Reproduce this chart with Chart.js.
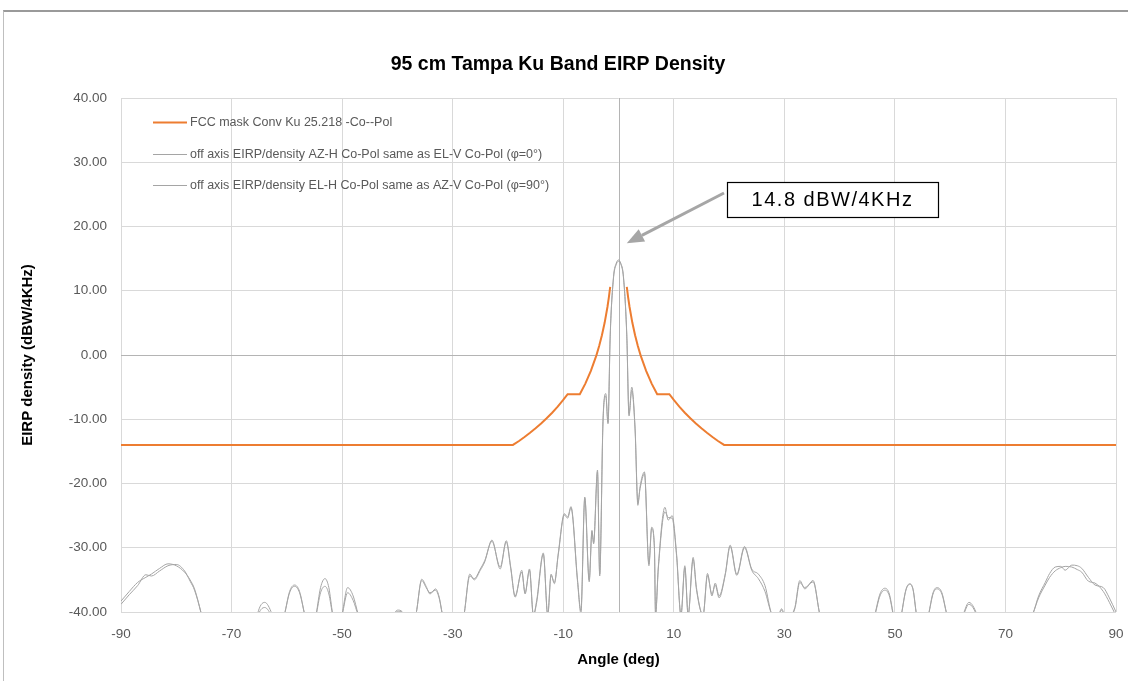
<!DOCTYPE html>
<html>
<head>
<meta charset="utf-8">
<title>95 cm Tampa Ku Band EIRP Density</title>
<script src="https://cdn.jsdelivr.net/npm/chart.js@4.4.1/dist/chart.umd.min.js"></script>
<style>
    html, body { margin: 0; padding: 0; background: #fff; overflow: hidden; }
    #wrap { position: relative; width: 1128px; height: 681px; overflow: hidden; }
    #frame { position: absolute; left: 3px; top: 10px; width: 1300px; height: 900px;
             border-left: 1px solid #bfbfbf; border-top: 2px solid #9a9a9a; }
    #myChart { position: absolute; left: 0; top: 0; }
</style>
</head>
<body>
<div id="wrap">
    <div id="frame"></div>
    <canvas id="myChart" width="1128" height="681"></canvas>
</div>
<script>
// ---- data ----
const chartTitle = '95 cm Tampa Ku Band EIRP Density';
const xTitle = 'Angle (deg)';
const yTitle = 'EIRP density (dBW/4KHz)';
const seriesNames = [
    'FCC mask Conv Ku 25.218 -Co--Pol',
    'off axis EIRP/density AZ-H Co-Pol same as EL-V Co-Pol (\u03c6=0\u00b0)',
    'off axis EIRP/density EL-H Co-Pol same as AZ-V Co-Pol (\u03c6=90\u00b0)'
];
const peakLabel = '14.8 dBW/4KHz';

const xTickValues = [-90, -70, -50, -30, -10, 10, 30, 50, 70, 90];
const yTickValues = [-40, -30, -20, -10, 0, 10, 20, 30, 40];
const yTickLabels = ['-40.00', '-30.00', '-20.00', '-10.00', '0.00', '10.00', '20.00', '30.00', '40.00'];

// FCC mask (gap around boresight)
const maskAngles = [-90, -19.1, -18, -17, -16, -15, -14, -13, -12, -11, -10, -9.2, -7, -6, -5, -4, -3.5, -3, -2.5, -2, -1.75, -1.5,
    0,
    1.5, 1.75, 2, 2.5, 3, 3.5, 4, 5, 6, 7, 9.2, 10, 11, 12, 13, 14, 15, 16, 17, 18, 19.1, 90];
const maskValues = [-14, -14, -13.38, -12.76, -12.1, -11.4, -10.65, -9.85, -8.98, -8.03, -7.0, -6.1, -6.1, -4.45, -2.47, -0.05, 1.4, 3.07, 5.05, 7.47, 8.92, 10.6,
    null,
    10.6, 8.92, 7.47, 5.05, 3.07, 1.4, -0.05, -2.47, -4.45, -6.1, -6.1, -7.0, -8.03, -8.98, -9.85, -10.65, -11.4, -12.1, -12.76, -13.38, -14, -14];

// measured off-axis EIRP density
const offAxisAngles = [
    -90, -88.5, -87, -85.5, -84.5, -83, -81.5, -80, -78.5, -77.5,
    -76.7, -75.5, -74.5, -70, -66, -65.3, -64, -62.7, -61.5, -60.4,
    -59.5, -58.6, -57.7, -56.8, -55.8, -54.7, -53.9, -53.1, -52.4, -51.7,
    -50.8, -50.0, -49.0, -48.0, -47.1, -45, -41, -40.5, -39.8, -38.9,
    -37.5, -36.6, -35.6, -34.8, -34.1, -33.1, -32.4, -31.9, -30, -28.5,
    -27.9, -26.9, -26.1, -25.0, -24.2, -22.9, -21.4, -20.3, -19.5, -18.7,
    -17.5, -16.9, -16.1, -15.4, -14.8, -13.6, -12.8, -12.2, -11.6, -10.9,
    -9.8, -9.2, -8.6, -7.4, -6.8, -6.1, -5.3, -4.8, -4.5, -3.8,
    -3.4, -2.8, -2.3, -1.9, -1.5, -0.9, -0.4, 0, 0.4, 0.9,
    1.5, 1.9, 2.4, 3.0, 3.5, 3.9, 4.7, 5.5, 6.0, 6.5,
    6.7, 7.2, 8.4, 9.0, 9.7, 10.5, 11.3, 12.0, 12.6, 13.5,
    14.1, 15.3, 16.1, 16.9, 17.5, 18.2, 19.3, 20.2, 21.4, 22.8,
    24.1, 25.3, 26.5, 27.7, 28.7, 29.5, 30.3, 31.9, 32.8, 33.7,
    35.2, 36.4, 38, 45, 46.4, 47.3, 48.2, 49.0, 49.7, 50.5,
    51.2, 52.0, 52.7, 53.3, 53.9, 55, 56.1, 56.9, 57.6, 58.5,
    59.4, 61, 62.4, 63.4, 64.8, 66, 72, 75.0, 76, 77.2,
    78, 79.0, 80.0, 80.8, 82.0, 83.0, 83.8, 85, 86.2, 87.7,
    88.8, 90
];
const azHValues = [
    -38.3, -36.8, -35.4, -34.6, -34.1, -33.2, -32.5, -32.8, -33.8, -35.0,
    -36.4, -40.2, -44, -46, -44, -40.3, -38.5, -40.3, -44, -40.3,
    -36.8, -35.8, -36.8, -40.3, -44, -40.3, -36.2, -34.8, -36.2, -40.3,
    -43, -40.3, -36.2, -37.5, -40.3, -45, -43, -40.2, -39.7, -40.2,
    -43, -40.2, -34.9, -36.0, -37.2, -36.4, -37.8, -40.2, -46, -43,
    -40.2, -34.1, -35.0, -33.5, -32.2, -28.8, -33.3, -28.9, -33, -37.7,
    -33.5, -37.2, -33.3, -40.5, -38.2, -30.8, -40.5, -34.1, -35.6, -30.9,
    -24.7, -25.2, -23.6, -35.1, -39.8, -22.1, -35.0, -27.3, -29.4, -17.9,
    -34.1, -10.1, -6.0, -10.7, 2.9, 12.2, 14.3, 14.8, 14.3, 12.2,
    2.9, -9.5, -5.5, -11.7, -23.4, -20.5, -18.2, -32.5, -26.8, -29.9,
    -40.5, -33.0, -23.7, -25.7, -25.0, -30.9, -40.5, -32.8, -40.5, -31.5,
    -36.2, -40.5, -34.0, -37.5, -35.5, -37.5, -34.1, -29.6, -34.1, -29.8,
    -33.3, -34.1, -35.9, -40.3, -41, -39.5, -41, -39.3, -35.1, -36.4,
    -35.1, -40.3, -45, -45, -40.3, -37.2, -36.3, -37.2, -40.3, -44,
    -40.3, -36.5, -35.6, -36.5, -40.3, -44, -40.3, -37, -36.2, -37,
    -40.3, -44, -40.3, -38.5, -40.3, -44, -46, -40.2, -37.5, -35.4,
    -34, -33.0, -32.9, -33.5, -32.7, -32.8, -33.2, -34.6, -35.8, -36.2,
    -37.8, -40
];
const elHValues = [
    -38.8, -37.3, -35.9, -34.2, -34.4, -33.6, -32.8, -32.6, -33.6, -35.2,
    -36.6, -40.2, -44, -46, -44, -40.8, -39.3, -40.8, -44, -40.3,
    -37.0, -36.0, -37.0, -40.3, -44, -40.5, -37.0, -36.0, -37.2, -40.5,
    -43, -40.5, -37.0, -38.2, -40.5, -45, -43, -40.3, -39.9, -40.3,
    -43, -40.2, -35.1, -36.2, -37.0, -36.6, -38.0, -40.2, -46, -43,
    -40.2, -34.4, -34.8, -33.3, -32.0, -29.0, -33.0, -29.1, -33.2, -37.5,
    -33.8, -37.0, -33.5, -40.5, -38.5, -31.0, -40.5, -34.3, -35.4, -31.1,
    -24.9, -25.4, -23.8, -35.4, -40.2, -22.3, -35.3, -27.5, -29.2, -18.2,
    -34.4, -10.4, -6.4, -10.5, 3.2, 12.0, 14.1, 14.6, 14.2, 12.0,
    3.2, -9.2, -5.0, -11.4, -23.0, -20.8, -18.5, -32.8, -27.0, -30.2,
    -40.5, -33.3, -24.4, -25.3, -25.4, -31.2, -40.5, -33.1, -40.5, -31.8,
    -36.5, -40.5, -34.3, -37.2, -35.8, -37.8, -34.3, -29.8, -34.3, -30.0,
    -33.5, -34.8, -36.8, -40.3, -41, -39.7, -41, -39.5, -35.4, -36.2,
    -35.3, -40.3, -45, -45, -40.5, -37.5, -36.6, -37.5, -40.5, -44,
    -40.4, -36.6, -35.7, -36.6, -40.4, -44, -40.4, -37.2, -36.4, -37.2,
    -40.4, -44, -40.5, -38.8, -40.5, -44, -46, -40.2, -37.8, -35.8,
    -34.6, -33.6, -33.1, -32.9, -33.0, -33.4, -33.8, -35.2, -35.5, -36.8,
    -38.5, -40.6
];

// ---- drawing ----
const FONT = '"Liberation Sans", Arial, sans-serif';
const seriesColors = ['#ed7d31', '#a5a5a5', '#a5a5a5'];
const seriesWidths = [2, 1, 1];

function toPoints(xs, ys) {
    return xs.map((x, i) => ({ x: x, y: ys[i] }));
}

// zero lines, legend inside the plot and the peak call-out
const overlayPlugin = {
    id: 'overlay',
    beforeDatasetsDraw(chart) {
        const { ctx, chartArea: a, scales: { x, y } } = chart;
        const x0 = Math.round(x.getPixelForValue(0)) + 0.5;
        const y0 = Math.round(y.getPixelForValue(0)) + 0.5;
        ctx.save();
        ctx.strokeStyle = '#b4b4b4';
        ctx.lineWidth = 1;
        ctx.beginPath();
        ctx.moveTo(x0, a.top); ctx.lineTo(x0, a.bottom);
        ctx.moveTo(a.left, y0); ctx.lineTo(a.right, y0);
        ctx.stroke();
        ctx.restore();
    },
    afterDatasetsDraw(chart) {
        const { ctx, chartArea: a, scales: { x, y } } = chart;
        ctx.save();

        // legend
        ctx.font = '12.5px ' + FONT;
        ctx.textBaseline = 'middle';
        ctx.textAlign = 'left';
        chart.data.datasets.forEach((ds, i) => {
            const ly = Math.round(a.top + 24 + i * 31.5) + 0.5;
            ctx.strokeStyle = ds.borderColor;
            ctx.lineWidth = ds.borderWidth;
            ctx.beginPath();
            ctx.moveTo(a.left + 32, ly);
            ctx.lineTo(a.left + 66, ly);
            ctx.stroke();
            ctx.fillStyle = '#595959';
            ctx.fillText(ds.label, a.left + 69, ly);
        });

        // call-out box
        const bx = a.left + 606, by = a.top + 84, bw = 211, bh = 35;
        ctx.fillStyle = '#fff';
        ctx.fillRect(bx, by, bw, bh);
        ctx.strokeStyle = '#000';
        ctx.lineWidth = 1.2;
        ctx.strokeRect(bx + 0.5, by + 0.5, bw, bh);
        ctx.fillStyle = '#000';
        ctx.font = '20px ' + FONT;
        ctx.letterSpacing = '1.5px';
        ctx.textAlign = 'center';
        ctx.fillText(peakLabel, bx + bw / 2, by + bh / 2 + 1);
        ctx.letterSpacing = '0px';

        // arrow to the peak
        const sx = bx - 3, sy = by + 11;
        const tx = x.getPixelForValue(1.5), ty = y.getPixelForValue(17.4);
        const ang = Math.atan2(ty - sy, tx - sx);
        const hl = 17, hw = 7;
        const baseX = tx - hl * Math.cos(ang), baseY = ty - hl * Math.sin(ang);
        ctx.strokeStyle = '#a6a6a6';
        ctx.fillStyle = '#a6a6a6';
        ctx.lineWidth = 3;
        ctx.beginPath();
        ctx.moveTo(sx, sy);
        ctx.lineTo(baseX, baseY);
        ctx.stroke();
        ctx.beginPath();
        ctx.moveTo(tx, ty);
        ctx.lineTo(baseX + hw * Math.sin(ang), baseY - hw * Math.cos(ang));
        ctx.lineTo(baseX - hw * Math.sin(ang), baseY + hw * Math.cos(ang));
        ctx.closePath();
        ctx.fill();

        ctx.restore();
    }
};

const ctx = document.getElementById('myChart').getContext('2d');

new Chart(ctx, {
    type: 'line',
    data: {
        datasets: [
            {
                label: seriesNames[0],
                data: toPoints(maskAngles, maskValues),
                borderColor: seriesColors[0],
                backgroundColor: seriesColors[0],
                borderWidth: seriesWidths[0],
                pointRadius: 0,
                tension: 0,
                spanGaps: false
            },
            {
                label: seriesNames[1],
                data: toPoints(offAxisAngles, azHValues),
                borderColor: seriesColors[1],
                backgroundColor: seriesColors[1],
                borderWidth: seriesWidths[1],
                pointRadius: 0,
                cubicInterpolationMode: 'monotone'
            },
            {
                label: seriesNames[2],
                data: toPoints(offAxisAngles, elHValues),
                borderColor: seriesColors[2],
                backgroundColor: seriesColors[2],
                borderWidth: seriesWidths[2],
                pointRadius: 0,
                cubicInterpolationMode: 'monotone'
            }
        ]
    },
    options: {
        responsive: false,
        animation: false,
        events: [],
        layout: { padding: { left: 0, right: 12, top: 0, bottom: 0 } },
        plugins: {
            legend: { display: false },
            tooltip: { enabled: false },
            title: {
                display: true,
                text: chartTitle,
                color: '#000',
                font: { family: FONT, size: 19.5, weight: 'bold' },
                padding: { top: 53, bottom: 21.6 }
            }
        },
        scales: {
            x: {
                type: 'linear',
                min: -90,
                max: 90,
                afterBuildTicks: (s) => { s.ticks = xTickValues.map(v => ({ value: v })); },
                afterFit: (s) => { s.height = 69; },
                ticks: {
                    autoSkip: false,
                    maxRotation: 0,
                    padding: 0,
                    color: '#595959',
                    font: { family: FONT, size: 13.5 },
                    callback: (v) => String(v)
                },
                grid: { color: '#d9d9d9', drawTicks: true, tickLength: 14, tickColor: 'rgba(0,0,0,0)' },
                border: { display: false },
                title: {
                    display: true,
                    text: xTitle,
                    color: '#000',
                    font: { family: FONT, size: 15, weight: 'bold' },
                    padding: { top: 0, bottom: 12 }
                }
            },
            y: {
                min: -40,
                max: 40,
                afterBuildTicks: (s) => { s.ticks = yTickValues.map(v => ({ value: v })); },
                afterFit: (s) => { s.width = 121; },
                ticks: {
                    padding: 14,
                    color: '#595959',
                    font: { family: FONT, size: 13.5 },
                    callback: (v, i) => yTickLabels[i]
                },
                grid: { color: '#d9d9d9', drawTicks: false },
                border: { display: false },
                title: {
                    display: true,
                    text: yTitle,
                    color: '#000',
                    font: { family: FONT, size: 15, weight: 'bold' },
                    padding: { top: 19, bottom: 0 }
                }
            }
        }
    },
    plugins: [overlayPlugin]
});
</script>
</body>
</html>
